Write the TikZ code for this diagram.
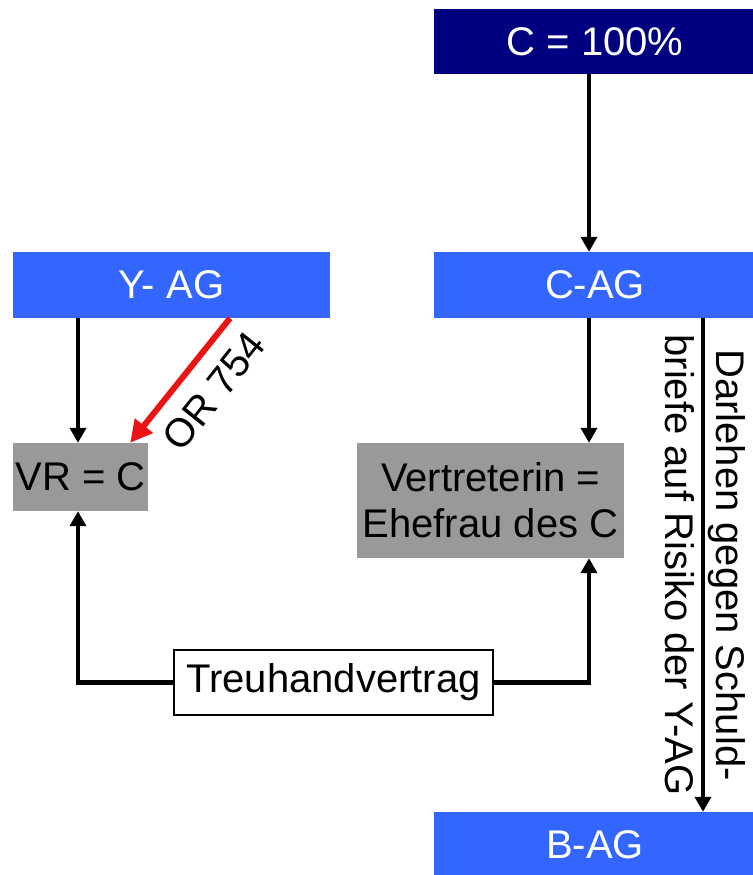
\documentclass[tikz,border=0pt]{standalone}
\usepackage{fontspec}
\setmainfont{Liberation Sans}
\usetikzlibrary{arrows.meta,positioning,calc}

\definecolor{navyC}{RGB}{0,0,128}
\definecolor{agblue}{RGB}{51,102,255}
\definecolor{vrgray}{RGB}{153,153,153}
\definecolor{orred}{RGB}{235,20,20}

\begin{document}
\begin{tikzpicture}[
    x=1pt, y=1pt,
    every node/.style={font=\fontsize{40}{46}\selectfont, inner sep=0pt},
    topbox/.style={rectangle, fill=navyC, text=white, minimum width=322pt, minimum height=65pt},
    agbox/.style={rectangle, fill=agblue, text=white, minimum height=66pt},
    graybox/.style={rectangle, fill=vrgray, text=black, align=center},
    deedbox/.style={rectangle, draw=black, line width=1.2pt, fill=white, minimum width=319pt, minimum height=65pt},
    flow/.style={-{Triangle[length=15pt, width=16pt]}, line width=4.5pt},
    redflow/.style={-{Triangle[length=22pt, width=22pt]}, line width=6pt, draw=orred}
]
    \useasboundingbox (0,0) rectangle (752,-875);

    % Owner and companies
    \node[topbox] (owner) at (595,-41.5) {C = 100\%};
    \node[agbox, minimum width=317pt] (yag) at (171.5,-285) {Y- AG};
    \node[agbox, minimum width=322pt] (cag) at (595,-285) {C-AG};
    \node[agbox, minimum width=322pt, minimum height=65pt] (bag) at (595,-844.5) {B-AG};

    % Representatives
    \node[graybox, minimum width=135pt, minimum height=68pt] (vr) at (80.5,-477) {VR = C};
    \node[graybox, minimum width=267pt, minimum height=115pt] (wife) at (490.5,-500.5) {Vertreterin =\\Ehefrau des C};

    % Trust agreement
    \node[deedbox] (treu) at (333.5,-682.5) {Treuhandvertrag};

    % Arrows
    \draw[flow] ([xshift=-6pt]owner.south) -- ([xshift=-6pt]cag.north);
    \draw[flow] ([xshift=-2.5pt]vr.north |- yag.south) -- ([xshift=-2.5pt]vr.north);
    \draw[flow] ([xshift=-6pt]cag.south) -- ([xshift=-6pt]cag.south |- wife.north);
    \draw[redflow] ([xshift=58.5pt]yag.south) -- ([xshift=-18pt]vr.north east)
        node[pos=0.42, sloped, below=16pt] {OR 754};
    \draw[flow] ([xshift=108pt]cag.south) -- ([xshift=108pt]bag.north)
        node[midway, xshift=2pt, rotate=-90, align=center, font=\fontsize{40}{51}\selectfont] {Darlehen gegen Schuld-\\briefe auf Risiko der Y-AG};

    % Trust lines
    \draw[flow] (treu.west) -| ([xshift=-2.5pt]vr.south);
    \draw[flow] (treu.east) -| ([xshift=-6pt]cag.south |- wife.south);
\end{tikzpicture}
\end{document}
